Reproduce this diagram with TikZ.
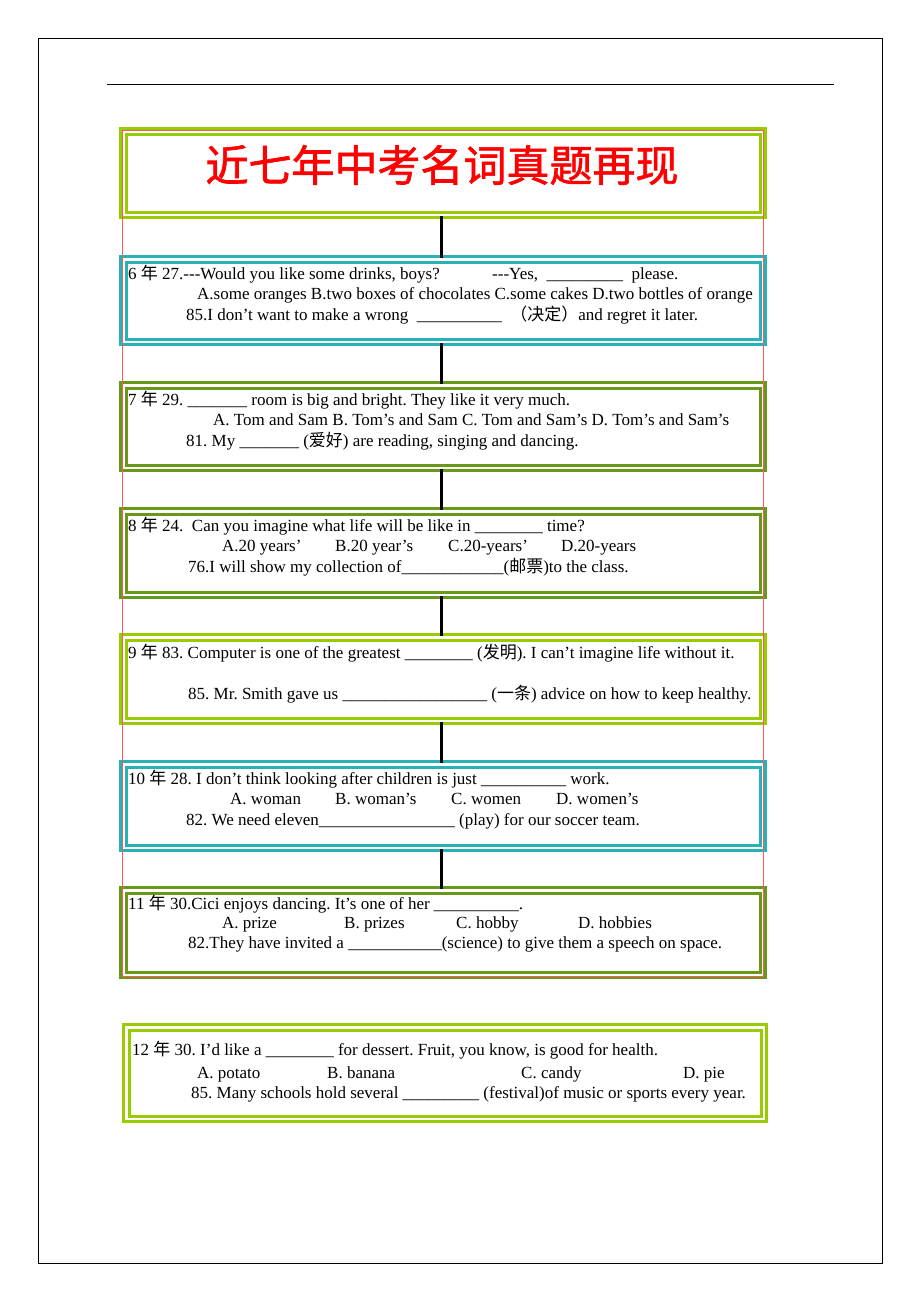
\documentclass[tikz,border=0pt]{standalone}
\usepackage{fontspec}
\setmainfont{Liberation Serif}
\newfontfamily\cjk{Noto Sans CJK SC}
\newfontfamily\cjktitle[FakeBold=1.5]{Noto Sans CJK SC}
\usetikzlibrary{positioning}
\definecolor{mgreen}{RGB}{153, 204, 0}
\definecolor{dgreen}{RGB}{102, 153, 26}
\definecolor{mteal}{RGB}{38, 178, 184}
\definecolor{mred}{RGB}{255, 0, 0}
\definecolor{lred}{RGB}{255, 90, 90}
\tikzset{qbox/.style = {draw, double = white, double distance = 2.5, line width = 3, inner sep = 0, minimum width = 639.5}}
\tikzset{txt/.style = {anchor = base west, inner sep = 0, font = \fontsize{17}{19}\selectfont}}
\tikzset{link/.style = {line width = 3}}
\newcommand{\zh}[1]{{\cjk #1}}
\newcommand{\fillin}[1]{\foreach \k in {1,...,#1}{\_}}
\frenchspacing

\begin{document}
\begin{tikzpicture}[x=1pt, y=-1pt]
    \useasboundingbox (0, 0) rectangle (920, 1302);
    \draw [line width = 1] (38, 38) rectangle (882, 1263);
    \draw [line width = 1] (107, 84) -- (834, 84);

    \node [qbox, mgreen, minimum height = 83.5] (b1) at (443, 173) {};
    \node [qbox, mteal, minimum height = 82.5] (b2) at (443, 300.5) {};
    \node [qbox, dgreen, minimum height = 82.5] (b3) at (443, 426.5) {};
    \node [qbox, dgreen, minimum height = 83.5] (b4) at (443, 553) {};
    \node [qbox, mgreen, minimum height = 83.5] (b5) at (443, 679) {};
    \node [qbox, mteal, minimum height = 83.5] (b6) at (443, 806) {};
    \node [qbox, dgreen, minimum height = 84.5] (b7) at (443, 932.5) {};
    \node [qbox, mgreen, minimum height = 91.5, minimum width = 637.5] (b8) at (445, 1073) {};

    \draw [lred, line width = 0.8] (122.5, 130) rectangle (763, 976);

    \draw [link] ([xshift = -2]b1.south) -- ([xshift = -2]b2.north);
    \draw [link] ([xshift = -2]b2.south) -- ([xshift = -2]b3.north);
    \draw [link] ([xshift = -2]b3.south) -- ([xshift = -2]b4.north);
    \draw [link] ([xshift = -2]b4.south) -- ([xshift = -2]b5.north);
    \draw [link] ([xshift = -2]b5.south) -- ([xshift = -2]b6.north);
    \draw [link] ([xshift = -2]b6.south) -- ([xshift = -2]b7.north);

    \node [text = mred, font = \cjktitle\fontsize{43}{43}\selectfont] (title) at (442, 165) {近七年中考名词真题再现};

    \node [txt] (t6a) at (128, 279) {6 \zh{年} 27.{-}{-}{-}Would you like some drinks, boys?};
    \node [txt] (t6b) at (492, 279) {{-}{-}{-}Yes,\ \ \fillin{9}\ \ please.};
    \node [txt] (t6c) at (197, 299) {A.some oranges B.two boxes of chocolates C.some cakes D.two bottles of orange};
    \node [txt] (t6d) at (186, 320) {85.I don’t want to make a wrong\ \ \fillin{10}\ \ \zh{（决定）}and regret it later.};

    \node [txt] (t7a) at (128, 405) {7 \zh{年} 29. \fillin{7} room is big and bright. They like it very much.};
    \node [txt] (t7b) at (213, 425) {A. Tom and Sam B. Tom’s and Sam C. Tom and Sam’s D. Tom’s and Sam’s};
    \node [txt] (t7c) at (186, 446) {81. My \fillin{7} (\zh{爱好}) are reading, singing and dancing.};

    \node [txt] (t8a) at (128, 531) {8 \zh{年} 24.\ \ Can you imagine what life will be like in \fillin{8} time?};
    \node [txt] (o8a) at (222, 551) {A.20 years’};
    \node [txt] (o8b) at (335, 551) {B.20 year’s};
    \node [txt] (o8c) at (448, 551) {C.20-years’};
    \node [txt] (o8d) at (561, 551) {D.20-years};
    \node [txt] (t8b) at (188, 572) {76.I will show my collection of\fillin{12}(\zh{邮票})to the class.};

    \node [txt] (t9a) at (128, 658) {9 \zh{年} 83. Computer is one of the greatest \fillin{8} (\zh{发明}). I can’t imagine life without it.};
    \node [txt] (t9b) at (188, 699) {85. Mr. Smith gave us \fillin{17} (\zh{一条}) advice on how to keep healthy.};

    \node [txt] (t10a) at (128, 784) {10 \zh{年} 28. I don’t think looking after children is just \fillin{10} work.};
    \node [txt] (o10a) at (230, 804) {A. woman};
    \node [txt] (o10b) at (335, 804) {B. woman’s};
    \node [txt] (o10c) at (451, 804) {C. women};
    \node [txt] (o10d) at (556, 804) {D. women’s};
    \node [txt] (t10b) at (186, 825) {82. We need eleven\fillin{16} (play) for our soccer team.};

    \node [txt] (t11a) at (128, 909) {11 \zh{年} 30.Cici enjoys dancing. It’s one of her \fillin{10}.};
    \node [txt] (o11a) at (222, 928) {A. prize};
    \node [txt] (o11b) at (344, 928) {B. prizes};
    \node [txt] (o11c) at (456, 928) {C. hobby};
    \node [txt] (o11d) at (578, 928) {D. hobbies};
    \node [txt] (t11b) at (188, 948) {82.They have invited a \fillin{11}(science) to give them a speech on space.};

    \node [txt] (t12a) at (132, 1055) {12 \zh{年} 30. I’d like a \fillin{8} for dessert. Fruit, you know, is good for health.};
    \node [txt] (o12a) at (197, 1078) {A. potato};
    \node [txt] (o12b) at (327, 1078) {B. banana};
    \node [txt] (o12c) at (521, 1078) {C. candy};
    \node [txt] (o12d) at (683, 1078) {D. pie};
    \node [txt] (t12b) at (191, 1098) {85. Many schools hold several \fillin{9} (festival)of music or sports every year.};
  \end{tikzpicture}
\end{document}
